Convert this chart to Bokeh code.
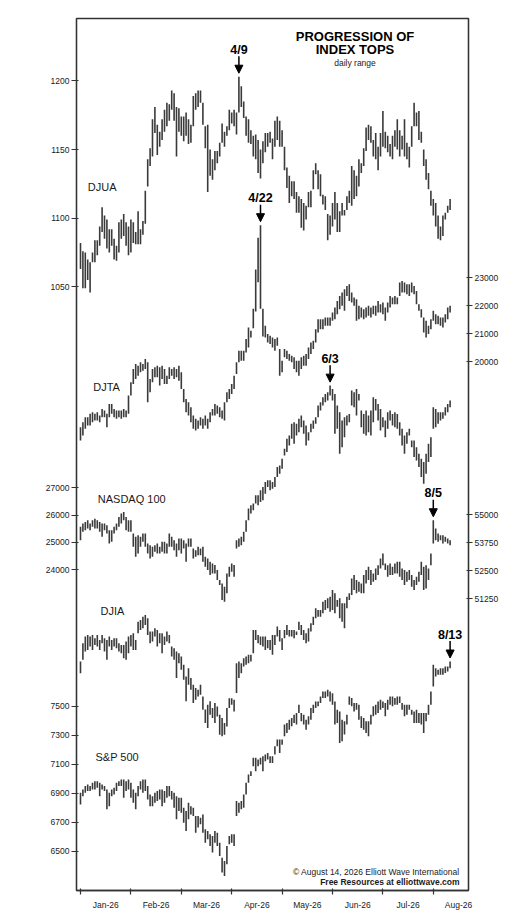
from bokeh.plotting import figure
from bokeh.models import Range1d, LinearAxis, FixedTicker, Label, Arrow, NormalHead
from bokeh.embed import file_html
from bokeh.resources import INLINE

# ---------------- data (daily high / low) ----------------
DJUA_H = [1082,1076,1075,1070,1068,1075,1084,1084,1094,1108,
          1102,1099,1092,1092,1085,1080,1097,1099,1103,1097,
          1094,1099,1097,1090,1105,1092,1098,1120,1143,1151,
          1172,1181,1168,1163,1172,1179,1184,1183,1193,1191,
          1181,1180,1174,1174,1177,1172,1168,1189,1191,1193,
          1193,1184,1167,1168,1150,1143,1149,1149,1155,1169,
          1163,1167,1179,1177,1179,1177,1203,1196,1185,1174,
          1172,1164,1160,1161,1157,1150,1156,1162,1162,1163,
          1158,1171,1174,1171,1164,1152,1137,1131,1127,1127,
          1119,1116,1114,1111,1109,1119,1120,1135,1140,1135,
          1132,1117,1116,1103,1102,1111,1119,1111,1105,1111,
          1106,1116,1120,1138,1135,1131,1143,1140,1151,1166,
          1168,1167,1157,1162,1152,1162,1178,1163,1160,1154,
          1160,1164,1172,1164,1160,1172,1155,1152,1167,1184,
          1177,1178,1163,1150,1143,1133,1120,1114,1111,1102,
          1094,1102,1104,1109,1114]
DJUA_L = [1063,1049,1049,1055,1046,1068,1068,1073,1080,1090,
          1085,1078,1075,1080,1070,1069,1075,1085,1087,1080,
          1073,1075,1082,1081,1081,1081,1088,1096,1123,1138,
          1145,1162,1146,1152,1157,1163,1167,1171,1179,1171,
          1145,1163,1160,1156,1160,1154,1155,1167,1179,1181,
          1184,1168,1151,1119,1131,1128,1135,1140,1145,1155,
          1152,1160,1164,1169,1167,1161,1177,1181,1173,1160,
          1155,1154,1145,1143,1133,1129,1140,1148,1152,1155,
          1143,1152,1157,1152,1152,1135,1122,1111,1116,1114,
          1104,1104,1093,1091,1099,1108,1108,1121,1132,1121,
          1116,1110,1106,1084,1088,1094,1099,1090,1090,1102,
          1102,1106,1111,1109,1114,1116,1123,1133,1138,1149,
          1157,1155,1145,1143,1135,1145,1152,1151,1148,1145,
          1143,1152,1150,1145,1150,1145,1143,1137,1152,1167,
          1167,1157,1155,1138,1128,1121,1109,1102,1094,1085,
          1084,1087,1099,1104,1106]

DJTA_H = [17656,17834,18013,18013,18132,18191,18132,18191,18072,18310,
          18251,18132,18489,18489,18310,18251,18251,18251,18310,18251,
          18786,19263,19739,19918,19858,19977,19918,20096,19977,19382,
          19739,19799,19858,19799,19858,19739,19501,19799,19739,19799,
          19739,19858,19620,19025,18667,18548,18370,18072,17953,17894,
          18013,17953,18072,17953,18191,18310,18489,18429,18370,18251,
          18548,18905,19025,19203,19501,19977,20394,20394,20394,20810,
          21227,21108,21900,23300,24440,24890,21900,21287,20989,20929,
          20870,20810,20870,20453,20037,20453,20394,20275,20215,20156,
          20037,20037,20156,20215,20275,20513,20691,20751,21167,21525,
          21525,21525,21584,21584,21584,21763,21941,22179,22358,22477,
          22596,22715,22775,22477,22298,22239,22001,21941,21882,21941,
          22001,21941,22001,22001,22179,22060,22120,21941,22120,22358,
          22298,22358,22298,22834,22894,22834,22775,22775,22834,22715,
          22537,22060,21882,21584,21465,21287,21525,21822,21703,21644,
          21584,21584,21703,21941,22001]
DJTA_L = [17180,17358,17596,17715,17715,17834,17894,17894,17834,18013,
          18013,17656,18013,18132,18013,17953,18013,17953,18013,18013,
          18132,18786,19203,19382,19501,19620,19680,19739,18548,18905,
          19263,19441,19441,19144,19382,19203,19203,19382,19501,19382,
          19441,19322,19025,18548,18191,18072,17834,17596,17536,17596,
          17715,17596,17715,17596,17834,18072,18072,18132,18013,17953,
          17894,18548,18667,18846,19025,19560,19977,20037,20037,20334,
          20513,20870,21200,21800,22850,21900,20900,20870,20691,20632,
          20513,20394,20572,19501,19620,20156,20096,20037,19977,19739,
          19620,19501,19739,19858,19858,20096,20275,20453,20691,21048,
          21167,21167,21287,21287,21287,21465,21525,21703,21882,22001,
          21822,22358,22179,22120,22001,21465,21525,21584,21525,21584,
          21644,21584,21703,21644,21763,21763,21703,21465,21763,21941,
          22060,22060,22060,22358,22477,22477,22417,22358,22477,22417,
          22060,21822,21584,21048,20870,20989,21167,21465,21346,21346,
          21287,21227,21406,21525,21763]

NDX_H = [25570,25690,25750,25810,25690,25810,25870,25810,25750,25690,
         25690,25630,25449,25449,25570,25690,25933,26054,26114,25933,
         25810,25810,25327,25206,25267,25206,25327,25327,24964,24903,
         24843,24903,24964,24843,25025,25025,24964,25327,25206,25085,
         24964,25145,25145,25085,24964,25145,25145,24782,24721,24843,
         24782,24843,24479,24418,24297,24236,24176,23994,23630,23509,
         23388,23873,24115,24236,24176,25085,25145,25206,25388,25810,
         26236,26357,26418,26721,26721,26903,27024,27206,27266,27266,
         27206,27388,27751,27812,28054,28418,28781,28903,29327,29388,
         29327,29509,29630,29448,29267,29024,29327,29448,29569,29993,
         30115,30296,30418,30478,30721,30600,30418,29993,29751,29448,
         29569,29630,29690,30539,30478,30600,30418,29812,29690,29812,
         29630,29812,30296,30236,30054,29872,29569,29448,29751,29812,
         29690,29751,29690,29388,29145,28903,29024,29145,28721,28721,
         28478,28236,28054,27933,28236,28600,28842,29933,29872,29751,
         29751,29751,29933,30054,30175]
NDX_L = [25085,25388,25449,25509,25449,25570,25509,25509,25388,25206,
         25449,25327,24964,25025,25327,25449,25570,25690,25810,25449,
         25388,25388,24843,24479,24600,24843,25025,24843,24600,24418,
         24479,24661,24600,24600,24661,24600,24600,24843,24843,24721,
         24479,24721,24600,24782,24297,24843,24843,24418,24479,24539,
         24539,24297,24115,23994,23812,23873,23873,23630,23448,22903,
         22843,23145,23752,23933,23752,24782,24843,24903,25025,25388,
         25810,26054,26176,26418,26357,26479,26539,26782,27024,26903,
         26964,27024,27388,27509,27691,28176,28297,28539,28781,28600,
         28903,29024,29206,28963,28539,28721,29024,29145,29327,29569,
         29812,29993,30115,30175,30357,30175,28963,29145,28236,28478,
         28842,29267,29388,29993,29933,29630,30175,29206,28963,28903,
         29024,28903,29388,29812,29448,29085,29206,28842,29145,29448,
         29267,29206,29145,28903,28539,28236,28600,28903,28478,28115,
         27994,27751,27388,27145,27509,27933,28115,29145,29206,29327,
         29448,29509,29630,29751,29933]

DJIA_H = [48445,49260,49557,49631,49557,49631,49483,49631,49409,49631,
          49483,49409,49557,49409,49483,49483,49260,49186,49186,49334,
          49557,49631,49705,49409,50224,50298,50446,50520,50372,49779,
          49779,49928,49853,49705,49705,49557,49779,49631,49112,49038,
          48890,48816,48667,48297,47778,48148,47704,47407,47259,47185,
          47407,46889,46300,46520,46670,46370,46590,46440,46070,45930,
          45700,46370,46810,46810,46740,48370,48445,48370,48593,48667,
          48742,48742,49853,49853,49631,49557,49557,49557,49409,49409,
          49631,49631,50002,49853,49483,49853,50076,49853,49853,49853,
          49779,50224,50076,49853,49705,49928,50150,50446,50817,50743,
          50743,51114,51188,51262,51337,51633,51485,51188,51262,51040,
          51040,51337,51485,52152,52300,52078,52004,51930,52300,52523,
          52671,52523,52375,52597,52745,53042,53264,52819,52745,52819,
          52671,52819,52893,52893,52597,52523,52449,52523,52300,52078,
          52226,52449,52893,52671,52745,52597,53264,54748,54377,54155,
          54080,54080,54006,53932,53858]
DJIA_L = [47926,48519,48890,48964,49112,48964,49186,49112,48964,49260,
          48890,48519,49112,48964,49112,49038,48890,48816,48593,48519,
          48816,49112,48964,48964,49705,49853,49928,50076,49631,49260,
          49334,49557,49112,49260,48816,49186,49334,49260,48667,48519,
          47704,48370,48074,47630,46667,47407,47185,46593,46739,46888,
          46962,46296,45700,45480,46070,45920,45700,45990,45180,45110,
          45180,45550,46370,46520,46220,47036,47704,47926,48222,48297,
          48370,48445,48816,49409,49260,49186,49112,48964,49038,48964,
          48742,49186,49557,49334,48964,49483,49631,49557,49557,49483,
          49631,49853,49631,49409,49260,49334,49779,50076,50372,50446,
          50446,50594,50743,50817,50669,50743,50594,50891,50372,50224,
          49928,50817,51188,51411,51633,51485,51559,51485,51485,51930,
          52078,51856,52004,52078,52300,52597,52745,52523,52226,52300,
          52300,52375,52375,52226,52078,51856,52004,52078,51782,51633,
          51856,52004,52300,51633,51707,52078,52745,53709,53858,53784,
          53858,53709,53784,53709,53635]

SPX_H = [6904,6927,6950,6961,6950,6973,6984,6984,6973,6961,
         6950,6927,6904,6927,6938,6973,6984,6996,6996,6984,
         6996,6973,6927,6904,6950,6984,6996,6996,6950,6893,
         6881,6904,6916,6927,6927,6916,6950,6950,6916,6904,
         6881,6870,6870,6801,6778,6835,6812,6801,6744,6744,
         6732,6755,6652,6641,6618,6606,6641,6629,6560,6457,
         6434,6538,6606,6618,6618,6847,6835,6847,6893,6973,
         7030,7053,7145,7145,7133,7145,7156,7168,7179,7156,
         7156,7225,7271,7271,7271,7374,7385,7408,7420,7442,
         7454,7511,7454,7442,7408,7431,7488,7511,7534,7534,
         7568,7603,7603,7614,7603,7591,7534,7477,7465,7408,
         7397,7442,7568,7557,7523,7523,7511,7431,7420,7397,
         7397,7442,7500,7511,7534,7545,7534,7523,7545,7568,
         7568,7557,7568,7568,7523,7511,7511,7511,7477,7465,
         7477,7454,7454,7454,7454,7511,7603,7786,7763,7752,
         7763,7763,7775,7775,7809]
SPX_L = [6824,6881,6904,6916,6916,6927,6927,6938,6881,6927,
         6916,6790,6812,6881,6893,6916,6950,6950,6870,6916,
         6927,6870,6835,6790,6881,6927,6904,6916,6858,6812,
         6812,6835,6847,6858,6812,6835,6870,6881,6858,6801,
         6721,6778,6767,6698,6641,6721,6755,6744,6629,6664,
         6687,6629,6560,6583,6538,6492,6560,6538,6469,6354,
         6331,6412,6549,6560,6538,6744,6767,6790,6801,6893,
         6973,7019,7087,7053,7087,7099,7053,7122,7133,7110,
         7110,7168,7225,7179,7236,7294,7317,7339,7362,7385,
         7374,7454,7397,7374,7339,7374,7408,7454,7488,7500,
         7523,7557,7557,7568,7534,7511,7374,7385,7248,7259,
         7305,7374,7511,7500,7465,7477,7408,7351,7339,7317,
         7294,7374,7431,7442,7454,7477,7488,7431,7477,7511,
         7500,7511,7511,7523,7477,7431,7442,7477,7442,7385,
         7385,7385,7374,7317,7397,7442,7511,7637,7706,7717,
         7717,7717,7729,7740,7763]

NAMES = ["DJUA", "DJTA", "NASDAQ 100", "DJIA", "S&P 500"]
TOP_LABELS = ["4/9", "4/22", "6/3", "8/5", "8/13"]
MONTHS = ["Jan-26", "Feb-26", "Mar-26", "Apr-26", "May-26", "Jun-26", "Jul-26", "Aug-26"]
DJUA_TICKS = [1050, 1100, 1150, 1200]
DJTA_TICKS = [20000, 21000, 22000, 23000]
NDX_TICKS = [24000, 25000, 26000, 27000]
DJIA_TICKS = [51250, 52500, 53750, 55000]
SPX_TICKS = [6500, 6700, 6900, 7100, 7300, 7500]
TITLE = ["PROGRESSION OF", "INDEX TOPS"]
SUBTITLE = "daily range"
CREDIT = ["\u00a9 August 14, 2026 Elliott Wave International", "Free Resources at elliottwave.com"]

# ---------------- layout / styling (reference-pixel calibration) ----------------
FT, FB = 18.5, 893.0            # frame top / bottom in reference px
DAYS_PER_MONTH = 21
PX_PER_DAY = 2.4
X0_PX = 80.0
FONT = "Liberation Sans"
INK = "#1a1a1a"
BAR = "#3a3a3a"

def px2x(px):
    return (px - X0_PX) / PX_PER_DAY

# (highs, lows, ticks, side, value at ref, ref px, px per unit, label px x, label px y)
SERIES = [
    (DJUA_H, DJUA_L, DJUA_TICKS, "left", 1200, 81.0, 68.9 / 50, 87.3, 187.5),
    (DJTA_H, DJTA_L, DJTA_TICKS, "right", 23000, 278.7, 28.0 / 1000, 92.7, 388.5),
    (NDX_H, NDX_L, NDX_TICKS, "left", 27000, 489.0, 27.5 / 1000, 97.3, 500.0),
    (DJIA_H, DJIA_L, DJIA_TICKS, "right", 55000, 516.0, 28.1 / 1250, 100.0, 612.5),
    (SPX_H, SPX_L, SPX_TICKS, "left", 7500, 708.3, 29.1 / 200, 95.0, 759.0),
]

W, H = 520, 912
p = figure(width=W, height=H, output_backend="svg", toolbar_location=None,
           x_range=Range1d(px2x(76.0), px2x(76.0) + 392 / PX_PER_DAY),
           y_range=Range1d(FB, FT),
           min_border_left=76, min_border_right=52, min_border_top=18, min_border_bottom=19)
p.xgrid.visible = False
p.ygrid.visible = False
p.background_fill_color = "white"
p.border_fill_color = "white"
p.outline_line_color = "#333333"
p.outline_line_width = 1.3

left_ticks, right_ticks = {}, {}
for k_i, (hi, lo, ticks, side, v0, y0, k, lx, ly) in enumerate(SERIES):
    rname = "s%d" % k_i
    p.extra_y_ranges[rname] = Range1d(v0 - (FB - y0) / k, v0 + (y0 - FT) / k)
    n = min(len(hi), len(lo))
    xs = list(range(n))
    p.segment(x0=xs, y0=lo[:n], x1=xs, y1=hi[:n], y_range_name=rname,
              line_color=BAR, line_width=1.6)
    target = left_ticks if side == "left" else right_ticks
    for v in ticks:
        target[round(y0 - (v - v0) * k, 2)] = str(v)
    p.add_layout(Label(x=px2x(lx), y=ly, text=NAMES[k_i], text_align="left",
                       text_baseline="middle", text_font=FONT, text_font_size="11px",
                       text_color=INK))
    # top marker
    i_top = max(range(n), key=lambda i: hi[i])
    y_hi = y0 - (hi[i_top] - v0) * k
    tip = y_hi - 3.5
    p.add_layout(Arrow(x_start=i_top, y_start=tip - 17, x_end=i_top, y_end=tip,
                       line_color="black", line_width=1.5,
                       end=NormalHead(size=8, fill_color="black", line_color="black", line_width=1)))
    p.add_layout(Label(x=i_top, y=tip - 23.5, text=TOP_LABELS[k_i], text_align="center",
                       text_baseline="middle", text_font=FONT, text_font_size="12.5px",
                       text_font_style="bold", text_color="black"))

def style_axis(ax, tick_out):
    ax.axis_line_color = "#333333"
    ax.axis_line_width = 1.3
    ax.major_tick_line_color = "#333333"
    ax.major_tick_line_width = 1.2
    ax.major_tick_out = tick_out
    ax.major_tick_in = 2
    ax.minor_tick_line_color = None
    ax.major_label_text_font = FONT
    ax.major_label_text_font_size = "8.5px"
    ax.major_label_text_color = INK
    ax.major_label_standoff = 2

yl = p.yaxis[0]
yl.ticker = FixedTicker(ticks=sorted(left_ticks))
yl.major_label_overrides = left_ticks
style_axis(yl, 5)

yr = LinearAxis(ticker=FixedTicker(ticks=sorted(right_ticks)), major_label_overrides=right_ticks)
style_axis(yr, 4)
p.add_layout(yr, "right")

xa = p.xaxis[0]
centers = [DAYS_PER_MONTH * i + DAYS_PER_MONTH / 2 for i in range(len(MONTHS))]
bounds = [DAYS_PER_MONTH * i for i in range(len(MONTHS))]
xa.ticker = FixedTicker(ticks=centers, minor_ticks=bounds)
xa.major_label_overrides = {c: m for c, m in zip(centers, MONTHS)}
style_axis(xa, 0)
xa.major_tick_in = 0
xa.major_tick_line_color = None
xa.minor_tick_line_color = "#333333"
xa.minor_tick_line_width = 1.2
xa.minor_tick_out = 4
xa.minor_tick_in = 2
xa.major_label_standoff = 5

# title block
p.add_layout(Label(x=px2x(354.5), y=36.2, text=TITLE[0], text_align="center", text_baseline="middle",
                   text_font=FONT, text_font_size="13px", text_font_style="bold", text_color="black"))
p.add_layout(Label(x=px2x(354.5), y=50.0, text=TITLE[1], text_align="center", text_baseline="middle",
                   text_font=FONT, text_font_size="13px", text_font_style="bold", text_color="black"))
p.add_layout(Label(x=px2x(354.5), y=63.0, text=SUBTITLE, text_align="center", text_baseline="middle",
                   text_font=FONT, text_font_size="8.5px", text_color=INK))
# credit
p.add_layout(Label(x=px2x(459), y=874.3, text=CREDIT[0], text_align="right", text_baseline="middle",
                   text_font=FONT, text_font_size="8.5px", text_color=INK))
p.add_layout(Label(x=px2x(459), y=884.0, text=CREDIT[1], text_align="right", text_baseline="middle",
                   text_font=FONT, text_font_size="8.5px", text_font_style="bold", text_color=INK))

open("out.html", "w").write(file_html(p, INLINE))
